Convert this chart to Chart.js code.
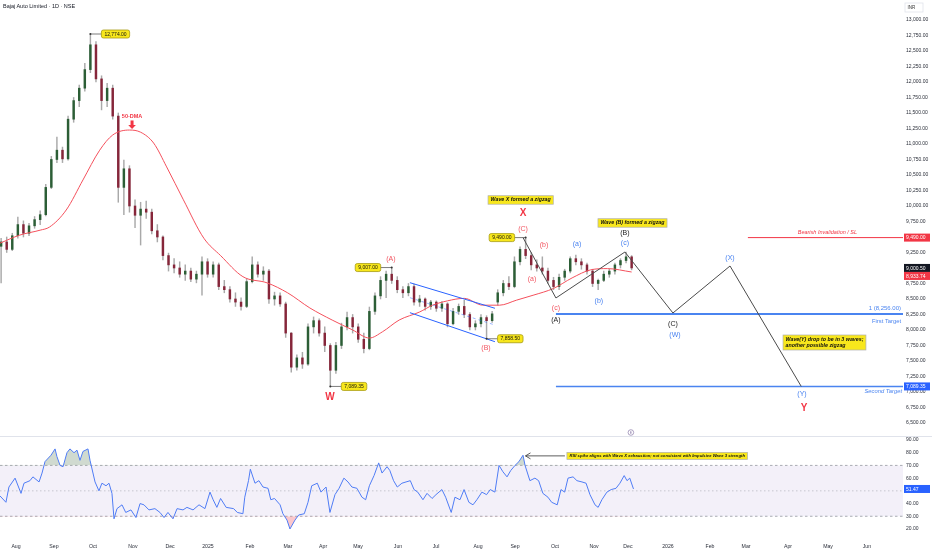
<!DOCTYPE html>
<html><head><meta charset="utf-8">
<script src="https://cdn.jsdelivr.net/npm/chart.js@4.4.1/dist/chart.umd.min.js"></script>
<style>
html,body{margin:0;padding:0;background:#fff;}
#wrap{position:relative;width:932px;height:550px;overflow:hidden;font-family:"Liberation Sans",Arial,sans-serif;background:#fff;}
#c1{position:absolute;left:0;top:0;}
#c2{position:absolute;left:0;top:437px;}
#sep{position:absolute;left:0;top:436px;width:932px;height:1px;background:#e0e3eb;}
#title{position:absolute;left:3px;top:3px;font-size:5.5px;color:#131722;z-index:2;}
</style></head><body>
<div id="wrap">
<canvas id="c1" width="932" height="437"></canvas>
<div id="sep"></div>
<canvas id="c2" width="932" height="113"></canvas>
<div id="title">Bajaj Auto Limited · 1D · NSE</div>
</div>
<script>
// ---------- DATA ----------
// x unit = trading-day index counted from 1 Aug 2024
const monthPos = [0,20.4,41.4,62.9,82.8,103.2,125.8,146.2,165.1,183.9,205.4,225.8,248.4,268.3,289.8,310.8,329,350.5,373.1,392.5,415.1,436.6,457.5];
const monthLabels = ['Aug','Sep','Oct','Nov','Dec','2025','Feb','Mar','Apr','May','Jun','Jul','Aug','Sep','Oct','Nov','Dec','2026','Feb','Mar','Apr','May','Jun'];
const priceTicks = [6500,6750,7000,7250,7500,7750,8000,8250,8500,8750,9000,9250,9500,9750,10000,10250,10500,10750,11000,11250,11500,11750,12000,12250,12500,12750,13000];
const rsiTicks = [20,30,40,50,60,70,80,90];

const barIndex = [-8,-5,-2,1,4,7,10,13,16,19,22,25,28,31,34,37,40,43,46,49,52,55,58,61,64,67,70,73,76,79,82,85,88,91,94,97,100,103,106,109,112,115,118,121,124,127,130,133,136,139,142,145,148,151,154,157,160,163,166,169,172,175,178,181,184,187,190,193,196,199,202,205,208,211,214,217,220,223,226,229,232,235,238,241,244,247,250,253,256,259,262,265,268,271,274,277,280,283,286,289,292,295,298,301,304,307,310,313,316,319,322,325,328,331];
const open  = [9350,9420,9300,9520,9700,9560,9680,9780,9860,10300,10750,10900,10760,11400,11700,11900,12200,12600,12050,11700,11900,11450,10300,10600,10000,9850,9950,9900,9600,9500,9200,9050,9000,8900,8950,8820,8900,9100,8900,9050,8700,8650,8500,8450,8380,8780,9050,8900,8950,8500,8550,8420,7950,7400,7550,7450,8050,8150,7950,7750,7350,7750,8050,8200,8050,7850,7700,8300,8550,8800,8900,8800,8650,8600,8700,8450,8500,8380,8450,8350,8420,8100,8300,8380,8250,8050,8100,8200,8150,8450,8600,8750,8700,9100,9300,9200,9050,9000,8950,8800,8700,8850,8950,9150,9100,9050,8950,8750,8800,8900,8950,9050,9120,9180];
const high  = [9480,9500,9560,9820,9760,9720,9830,9920,10350,10800,11110,10950,11450,11750,11950,12300,12774,12650,12100,11980,11950,11500,10740,10650,10100,10060,10080,9950,9700,9520,9240,9150,9100,9050,9000,8950,9180,9150,9100,9080,8800,8700,8600,8520,8820,9180,9100,9020,8980,8610,8600,8450,7960,7600,7640,8100,8210,8180,8050,7780,7800,8110,8290,8250,8100,7950,8370,8600,8860,8950,9007,8860,8700,8750,8740,8560,8520,8480,8470,8460,8440,8350,8420,8480,8280,8150,8250,8230,8300,8650,8800,8860,9180,9340,9490,9250,9130,9180,9000,8850,8900,8980,9180,9210,9150,9080,8980,8820,8950,8980,9080,9150,9258,9200];
const low   = [8760,9250,9280,9480,9500,9520,9640,9700,9840,10280,10700,10700,10740,11350,11600,11850,12150,12000,11550,11600,11400,10060,9860,9900,9650,9370,9800,9550,9420,9130,8950,8920,8850,8800,8780,8760,8560,8850,8850,8650,8600,8450,8380,8320,8360,8760,8850,8800,8430,8400,8380,7880,7320,7350,7380,7430,7950,7900,7650,7089.35,7300,7700,8000,7950,7800,7630,7680,8250,8500,8520,8750,8600,8520,8550,8400,8380,8320,8330,8300,8300,8050,8080,8250,8200,8000,8000,8050,7858.5,8120,8400,8550,8650,8680,9050,9150,8970,8950,8900,8750,8650,8650,8800,8920,9050,8980,8900,8700,8650,8780,8850,8900,9000,9080,8970];
const close = [9420,9300,9520,9700,9560,9680,9780,9860,10300,10750,10900,10760,11400,11700,11900,12200,12600,12050,11700,11900,11450,10300,10600,10000,9850,9950,9900,9600,9500,9200,9050,9000,8900,8950,8820,8900,9100,8900,9050,8700,8650,8500,8450,8380,8780,9050,8900,8950,8500,8550,8420,7950,7400,7550,7450,8050,8150,7950,7750,7350,7750,8050,8200,8050,7850,7700,8300,8550,8800,8900,8800,8650,8600,8700,8450,8500,8380,8450,8350,8420,8100,8300,8380,8250,8050,8100,8200,8150,8260,8600,8750,8700,9100,9300,9200,9050,9000,8950,8800,8700,8850,8950,9150,9100,9050,8950,8750,8800,8900,8950,9050,9120,9180,9000.5];

const dmaIdx = [-8.6,2,13,18,27,36,45,52,61,67,74,81,90,101,110,122,135,146,158,170,181,190,197,206,217,224,232,241,251,260,269,278,289,299,309,318,331];
const dmaVal = [9400,9530,9610,9660,9935,10420,10900,11145,11225,11190,11015,10630,10100,9480,9200,8860,8760,8600,8355,8160,8000,7870,7970,8160,8290,8400,8470,8510,8400,8400,8480,8560,8670,8840,8970,8990,8935];

const waveIdx = [272.6,290.3,327.4,353.2,383.9,422.2];
const wavePrice = [9490,8516,9258,8274,9032,7089.35];

const chanIdx = [211.8,257.5];
const chanUpper = [8763,8350];
const chanMid = [8521,8080];
const chanLower = [8279,7811];

const firstTarget = 8256, secondTarget = 7089.35, invalidation = 9490;
const targetStartIdx = 290.3, invalidStartIdx = 393.5;
const lastClose = 9000.5, lastDma = 8933.74, lastRsi = 51.47;

const waveLabelText  = ['X','(C)','(b)','(a)','(c)','(A)','(a)','(b)','(c)','(B)','(C)','(W)','(X)','(Y)','Y','W','(A)','(B)'];
const waveLabelIdx   = [272.6,272.6,283.9,277.4,290.3,290.3,301.6,313.4,327.4,327.4,353.2,354.3,383.9,422.6,423.7,168.8,201.6,252.7];
const waveLabelPrice = [9887,9629,9371,8823,8355,8161,9387,8468,9403,9565,8097,7919,9161,6968,6742,6919,9145,7710];
const waveLabelKind  = ['bigRed','red','red','red','red','dark','blue','blue','blue','dark','dark','blue','blue','blue','bigRed','bigRed','red','red'];

const noteIdx   = [40,202,169,274,253];
const noteValue = [12774,9007,7089.35,9490,7858.5];
const noteSide  = [1,-1,1,-1,1];

const calloutLines = [['Wave X formed a zigzag'],['Wave (B) formed a zigzag'],['Wave(Y) drop to be in 3 waves;','another possible zigzag']];
const calloutIdx   = [253.8,312.9,412.4];
const calloutPrice = [10097,9726,7798];

const rsiIdx = [-8.6,-5.4,-3.8,-0.5,2.7,4.3,7.5,9.1,12.4,14,15.6,18.8,21,22,23.7,25.3,27.4,29,31.2,32.8,34.4,36,38.7,39.8,42.5,44.6,46.2,48.4,50,51.6,52.7,54.3,57,59,61.8,64.5,66.7,68.8,71.5,74.7,77.4,79.6,81.7,84.4,86.6,89.8,91.9,95.2,98.4,101.6,104.3,106,108,110,113,117,119,122,123,125,126,128.5,130.6,132.8,135.5,137,139,142,143.5,145.7,147.3,150,152,155,157,159,162,164,166.7,168.8,171.5,173.7,176.3,178.5,180.6,183.3,186,188,190,192.5,195,196.8,199.5,201,203,205,207.5,209.7,212,214,216,218.8,221,223.7,225.8,229,231,234,236,238.7,240.9,243.5,245.7,247.8,250.5,253,255,257.5,259.7,261.8,264,266,268.3,270.4,272.6,273.7,276.3,279,281,283.3,286,288,291,293,295,296.8,299.5,301.6,304.3,306.5,308.6,311.3,313,315,317.7,320,322.6,324.7,327,328.5,330,332];
const rsiVal = [46,41,53,60,48,56,58,61,57,64,73,78,83,77,70,69,80,83,80,82,74,81,83,74,57,50,56,54,56,48,28,36,39,33,35,29,40,39,35,36,33,29,33,28,36,35,37,35,39,36,49,43,37,44,37,36,33,32,45,58,67,56,58,53,52,43,44,39,32,27,20,27,31,32,41,54,56,49,53,33,47,52,60,57,53,52,45,43,54,62,72,64,69,66,58,53,56,57,58,51,49,43,48,44,47,51,45,33,45,43,51,41,39,43,49,47,51,49,70,65,61,66,70,73,78,70,58,60,58,48,45,41,39,51,49,60,61,58,57,56,47,39,37,43,49,51,52,56,62,58,60,51.47];
const rsiNote = 'RSI spike aligns with Wave X exhaustion; not consistent with Impulsive Wave 3 strength';
const rsiNoteIdx = 296.2, rsiNoteVal = 77.5, rsiSpikeIdx = 273.4;

// ---------- HELPERS ----------
const FONT = '"Liberation Sans", Arial, sans-serif';
const X_MIN = -8.6, X_MAX = 476.9;
const fmt = v => v.toLocaleString('en-US',{minimumFractionDigits:2,maximumFractionDigits:2});
const pts = (xs, ys) => xs.map((x,i)=>({x, y: ys[i]}));
const UP = '#2c5e36', DOWN = '#86263a', WICK = '#a9a9a9';
const BLUE = '#4a84f0', RED = '#f23645';
const labelStyles = {
  bigRed: {font: 'bold 10px ' + FONT, color: '#f23645'},
  red:    {font: '7px ' + FONT, color: '#f25561'},
  blue:   {font: '7px ' + FONT, color: '#4a83f0'},
  dark:   {font: '7px ' + FONT, color: '#222'}
};
function rrect(ctx,x,y,w,h,r){ctx.beginPath();ctx.moveTo(x+r,y);ctx.lineTo(x+w-r,y);ctx.quadraticCurveTo(x+w,y,x+w,y+r);ctx.lineTo(x+w,y+h-r);ctx.quadraticCurveTo(x+w,y+h,x+w-r,y+h);ctx.lineTo(x+r,y+h);ctx.quadraticCurveTo(x,y+h,x,y+h-r);ctx.lineTo(x,y+r);ctx.quadraticCurveTo(x,y,x+r,y);ctx.closePath();}
function axisBox(ctx, ca, cw, y, text, bg){
  ctx.font = '5px ' + FONT;
  ctx.fillStyle = bg; ctx.fillRect(ca.right+1, y-4, cw-ca.right-3, 8);
  ctx.fillStyle = '#fff'; ctx.textAlign='left'; ctx.textBaseline='middle';
  ctx.fillText(text, ca.right+3, y+0.3);
}
const noPad = s => { s.paddingTop = 0; s.paddingBottom = 0; };

// ---------- PRICE CHART ----------
const priceAnnot = {
  id: 'priceAnnot',
  afterDraw(chart){
    const ctx = chart.ctx, ca = chart.chartArea, xs = chart.scales.x, ys = chart.scales.y;
    const X = v => xs.getPixelForValue(v), Y = v => ys.getPixelForValue(v);
    ctx.save();
    ctx.textBaseline='middle';
    ctx.fillStyle = RED; ctx.font = 'italic 5.5px ' + FONT; ctx.textAlign='right';
    ctx.fillText('Bearish Invalidation / SL', X(452.2), Y(invalidation)-5);
    ctx.fillStyle = BLUE; ctx.font = '6px ' + FONT;
    ctx.fillText('1 (' + fmt(firstTarget) + ')', ca.right-2, Y(firstTarget)-6);
    ctx.font = '5.8px ' + FONT;
    ctx.fillText('First Target', ca.right-2, Y(firstTarget)+7);
    ctx.font = 'italic 5.8px ' + FONT;
    ctx.fillText('Second Target', ca.right-1, Y(secondTarget)+5);
    ctx.textAlign='center';
    waveLabelText.forEach((t,i)=>{
      const st = labelStyles[waveLabelKind[i]];
      ctx.font = st.font; ctx.fillStyle = st.color;
      ctx.fillText(t, X(waveLabelIdx[i]), Y(waveLabelPrice[i]));
    });
    const dx = X(62.4), dy = Y(11444);
    ctx.font = 'bold 5.5px ' + FONT; ctx.fillStyle = RED;
    ctx.fillText('50-DMA', dx, dy);
    ctx.fillRect(dx-1.5, dy+4, 3, 5);
    ctx.beginPath(); ctx.moveTo(dx-3.8, dy+8.5); ctx.lineTo(dx+3.8, dy+8.5); ctx.lineTo(dx, dy+12.5); ctx.closePath(); ctx.fill();
    noteValue.forEach((v,i)=>{
      const px = X(noteIdx[i]), py = Y(v), text = fmt(v);
      ctx.font = '5px ' + FONT;
      const w = ctx.measureText(text).width + 6, h = 8, gap = 11;
      const bx = noteSide[i] > 0 ? px + gap : px - gap - w;
      ctx.strokeStyle = '#444'; ctx.lineWidth = 0.7;
      ctx.beginPath(); ctx.moveTo(px, py); ctx.lineTo(noteSide[i] > 0 ? bx : bx + w, py); ctx.stroke();
      ctx.fillStyle = '#333'; ctx.beginPath(); ctx.arc(px, py, 1, 0, Math.PI*2); ctx.fill();
      rrect(ctx, bx, py-h/2, w, h, 2);
      ctx.fillStyle = '#f8e71c'; ctx.fill(); ctx.strokeStyle = '#a79a12'; ctx.lineWidth = 0.8; ctx.stroke();
      ctx.fillStyle = '#111'; ctx.textAlign='center'; ctx.fillText(text, bx + w/2, py+0.3);
    });
    calloutLines.forEach((lines,i)=>{
      ctx.font = 'italic bold 5.3px ' + FONT;
      const lh = 6.5;
      const w = Math.max(...lines.map(l=>ctx.measureText(l).width)) + 5;
      const h = lines.length*lh + 2;
      const bx = X(calloutIdx[i]), by = Y(calloutPrice[i]) - h/2;
      ctx.fillStyle = '#f8e71c'; ctx.fillRect(bx, by, w, h);
      ctx.strokeStyle = '#b0b0b0'; ctx.lineWidth = 0.7; ctx.strokeRect(bx, by, w, h);
      ctx.fillStyle = '#111'; ctx.textAlign='left';
      lines.forEach((l,j)=>ctx.fillText(l, bx+2.5, by + 1 + lh*(j+0.5)));
    });
    const ex = X(330.6), ey = ca.bottom - 2.5;
    ctx.strokeStyle = '#8a7aa8'; ctx.lineWidth = 0.7; ctx.fillStyle='#fff';
    ctx.beginPath(); ctx.arc(ex, ey, 2.8, 0, Math.PI*2); ctx.fill(); ctx.stroke();
    ctx.fillStyle = '#8a7aa8'; ctx.font = '3.5px ' + FONT; ctx.textAlign='center'; ctx.fillText('E', ex, ey+0.2);
    const cw = chart.width;
    axisBox(ctx, ca, cw, Y(invalidation), fmt(invalidation), RED);
    const yClose = Y(lastClose), yDma = Math.max(Y(lastDma), yClose + 8);
    axisBox(ctx, ca, cw, yClose, fmt(lastClose), '#131722');
    axisBox(ctx, ca, cw, yDma, fmt(lastDma), RED);
    axisBox(ctx, ca, cw, Y(secondTarget), fmt(secondTarget), '#2962ff');
    ctx.fillStyle='#fff'; ctx.strokeStyle='#e0e3eb'; ctx.lineWidth=0.8;
    ctx.fillRect(ca.right+2, 3, 18, 9); ctx.strokeRect(ca.right+2, 3, 18, 9);
    ctx.fillStyle='#333'; ctx.font='4.5px ' + FONT; ctx.textAlign='left'; ctx.fillText('INR', ca.right+4.5, 7.7);
    ctx.restore();
  }
};

new Chart(document.getElementById('c1'), {
  type: 'bar',
  data: {
    datasets: [
      {type:'line', data: pts(waveIdx, wavePrice), borderColor:'#4b4b4b', borderWidth:1, pointRadius:0, order:1},
      {type:'line', data: [{x:invalidStartIdx,y:invalidation},{x:X_MAX,y:invalidation}], borderColor:RED, borderWidth:1, pointRadius:0, order:1},
      {type:'line', data: [{x:targetStartIdx,y:firstTarget},{x:X_MAX,y:firstTarget}], borderColor:BLUE, borderWidth:2, pointRadius:0, order:1},
      {type:'line', data: [{x:targetStartIdx,y:secondTarget},{x:X_MAX,y:secondTarget}], borderColor:BLUE, borderWidth:1.5, pointRadius:0, order:1},
      {type:'line', data: pts(chanIdx, chanUpper), borderColor:'#2962ff', borderWidth:1, pointRadius:0, order:2},
      {type:'line', data: pts(chanIdx, chanLower), borderColor:'#2962ff', borderWidth:1, pointRadius:0, order:2},
      {type:'line', data: pts(chanIdx, chanMid), borderColor:'rgba(41,98,255,0.45)', borderDash:[3,3], borderWidth:1, pointRadius:0, order:2},
      {type:'line', data: pts(dmaIdx, dmaVal), borderColor:'#f4505c', borderWidth:1, pointRadius:0, cubicInterpolationMode:'monotone', order:3},
      {type:'bar', data: barIndex.map((x,i)=>({x, y:[open[i], close[i]]})), backgroundColor: close.map((c,i)=> c >= open[i] ? UP : DOWN), barThickness:1.8, minBarLength:1, grouped:false, order:4},
      {type:'bar', data: barIndex.map((x,i)=>({x, y:[low[i], high[i]]})), backgroundColor: WICK, barThickness:0.8, grouped:false, order:5}
    ]
  },
  options: {
    responsive:false, animation:false, events:[],
    layout:{padding:{top:4,bottom:2,left:0,right:0}},
    plugins:{legend:{display:false}, tooltip:{enabled:false}},
    scales:{
      x:{type:'linear', min:X_MIN, max:X_MAX, offset:false, display:false},
      y:{type:'linear', position:'right', min:6306, max:13258,
         grid:{display:false, drawTicks:false}, border:{display:false},
         afterFit: s => { s.width = 29; noPad(s); },
         afterBuildTicks: s => { s.ticks = priceTicks.map(v=>({value:v})); },
         ticks:{padding:3, color:'#2a2e39', font:{size:5, family:FONT}, callback: v => fmt(v)}}
    }
  },
  plugins:[priceAnnot]
});

// ---------- RSI CHART ----------
const rsiDecor = {
  id:'rsiDecor',
  beforeDatasetsDraw(chart){
    const ctx = chart.ctx, ca = chart.chartArea, ys = chart.scales.y;
    const Y = v => ys.getPixelForValue(v);
    ctx.save();
    ctx.fillStyle = 'rgba(126,87,194,0.09)';
    ctx.fillRect(ca.left, Y(70), ca.right-ca.left, Y(30)-Y(70));
    ctx.strokeStyle = '#9598a1'; ctx.lineWidth = 0.8; ctx.setLineDash([2.5,2.5]);
    [70,30].forEach(v=>{ctx.beginPath(); ctx.moveTo(ca.left, Y(v)); ctx.lineTo(ca.right, Y(v)); ctx.stroke();});
    ctx.strokeStyle = 'rgba(149,152,161,0.6)'; ctx.setLineDash([1.5,2.5]);
    ctx.beginPath(); ctx.moveTo(ca.left, Y(50)); ctx.lineTo(ca.right, Y(50)); ctx.stroke();
    ctx.restore();
  },
  afterDraw(chart){
    const ctx = chart.ctx, ca = chart.chartArea, xs = chart.scales.x, ys = chart.scales.y;
    const X = v => xs.getPixelForValue(v), Y = v => ys.getPixelForValue(v);
    ctx.save();
    ctx.font = 'italic bold 4.2px ' + FONT;
    const w = ctx.measureText(rsiNote).width + 5, h = 7;
    const bx = X(rsiNoteIdx), by = Y(rsiNoteVal) - h/2;
    ctx.fillStyle = '#f8e71c'; ctx.fillRect(bx, by, w, h);
    ctx.strokeStyle = '#b0b0b0'; ctx.lineWidth = 0.7; ctx.strokeRect(bx, by, w, h);
    ctx.fillStyle = '#111'; ctx.textAlign='left'; ctx.textBaseline='middle';
    ctx.fillText(rsiNote, bx+2.5, by+h/2+0.3);
    const tx = X(rsiSpikeIdx)+1, ty = Y(rsiNoteVal);
    ctx.strokeStyle = '#333'; ctx.lineWidth = 0.8;
    ctx.beginPath(); ctx.moveTo(bx-2, ty); ctx.lineTo(tx, ty); ctx.stroke();
    ctx.beginPath(); ctx.moveTo(tx+5, ty-3); ctx.lineTo(tx, ty); ctx.lineTo(tx+5, ty+3); ctx.stroke();
    axisBox(ctx, ca, chart.width, Y(lastRsi), fmt(lastRsi), '#2962ff');
    ctx.restore();
  }
};

new Chart(document.getElementById('c2'), {
  type:'line',
  data:{datasets:[
    {data: pts(rsiIdx, rsiVal), borderColor:'rgba(0,0,0,0)', borderWidth:0, pointRadius:0,
     fill:{target:{value:30}, above:'rgba(0,0,0,0)', below:'rgba(242,54,69,0.28)'}, order:2},
    {data: pts(rsiIdx, rsiVal), borderColor:'#4f7cf5', borderWidth:1, pointRadius:0,
     fill:{target:{value:70}, above:'rgba(120,150,120,0.35)', below:'rgba(0,0,0,0)'}, order:1}
  ]},
  options:{
    responsive:false, animation:false, events:[],
    layout:{padding:{top:0,bottom:0,left:0,right:0}},
    plugins:{legend:{display:false}, tooltip:{enabled:false}},
    scales:{
      x:{type:'linear', min:X_MIN, max:X_MAX, offset:false,
         grid:{display:false, drawTicks:false}, border:{display:false},
         afterFit: s => { s.height = 15; s.paddingLeft = 0; s.paddingRight = 0; },
         afterBuildTicks: s => { s.ticks = monthPos.map(v=>({value:v})); },
         ticks:{padding:8, autoSkip:false, maxRotation:0, color:'#2a2e39', font:{size:5.2, family:FONT},
                callback:(v,i)=>monthLabels[i]}},
      y:{type:'linear', position:'right', min:15.26, max:92.36,
         grid:{display:false, drawTicks:false}, border:{display:false},
         afterFit: s => { s.width = 29; noPad(s); },
         afterBuildTicks: s => { s.ticks = rsiTicks.map(v=>({value:v})); },
         ticks:{padding:3, color:'#2a2e39', font:{size:5, family:FONT}, callback: v => fmt(v)}}
    }
  },
  plugins:[rsiDecor]
});
</script>
</body></html>
